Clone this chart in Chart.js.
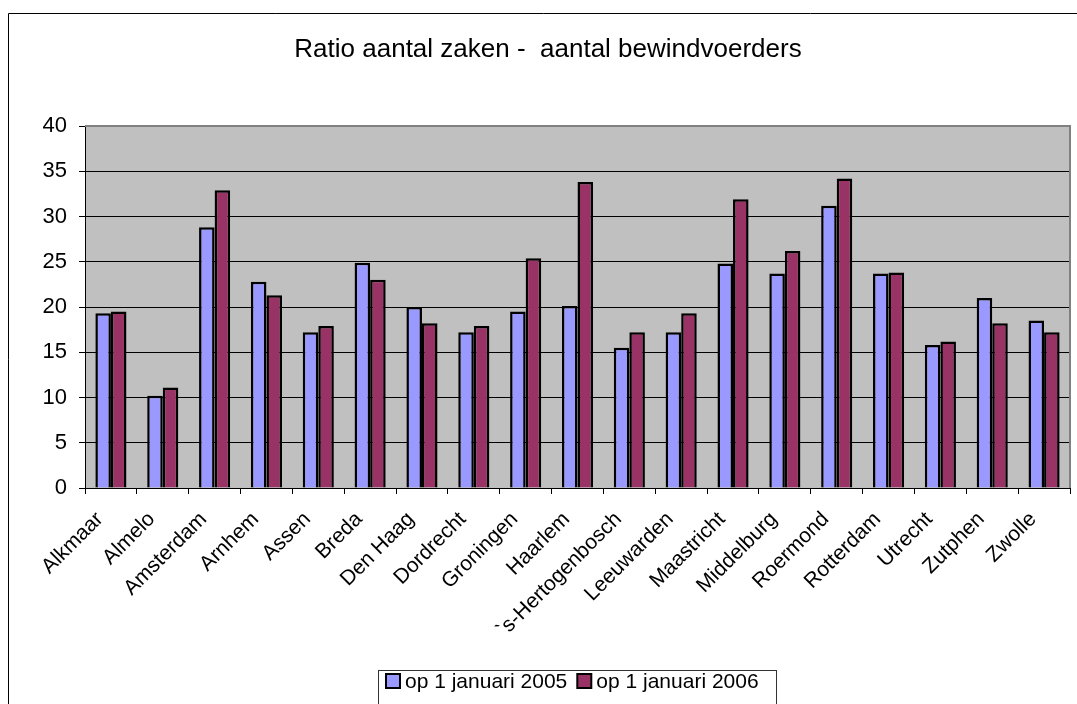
<!DOCTYPE html>
<html>
<head>
<meta charset="utf-8">
<script src="https://cdn.jsdelivr.net/npm/chart.js@4.4.1/dist/chart.umd.min.js"></script>
<style>
  html, body { margin: 0; padding: 0; background: #fff; }
  canvas { display: block; }
</style>
</head>
<body>
<canvas id="c" width="1077" height="704"></canvas>
<script>
// Courts (arrondissementen)
const categories = ['Alkmaar', 'Almelo', 'Amsterdam', 'Arnhem', 'Assen', 'Breda', 'Den Haag',
  'Dordrecht', 'Groningen', 'Haarlem', '`s-Hertogenbosch', 'Leeuwarden', 'Maastricht',
  'Middelburg', 'Roermond', 'Rotterdam', 'Utrecht', 'Zutphen', 'Zwolle'];

// Ratio cases per administrator
const ratio2005 = [19.3, 10.2, 28.8, 22.8, 17.2, 24.9, 20.0, 17.2, 19.5, 20.1,
  15.5, 17.2, 24.8, 23.7, 31.2, 23.7, 15.8, 21.0, 18.5];
const ratio2006 = [19.5, 11.1, 32.9, 21.3, 17.9, 23.0, 18.2, 17.9, 25.4, 33.8,
  17.2, 19.3, 31.9, 26.2, 34.2, 23.8, 16.2, 18.2, 17.2];

const seriesLabels = ['op 1 januari 2005', 'op 1 januari 2006'];
const titleText = 'Ratio aantal zaken -  aantal bewindvoerders';
const yTicks = [0, 5, 10, 15, 20, 25, 30, 35, 40];

const FONT = '"Liberation Sans", Arial, sans-serif';

// Plot-area background and border, drawn under grid lines
const plotBackground = {
  id: 'plotBackground',
  beforeDraw(chart) {
    const { ctx, chartArea: a } = chart;
    ctx.save();
    ctx.fillStyle = '#C0C0C0';
    ctx.fillRect(a.left, a.top, a.right - a.left, a.bottom - a.top);
    ctx.restore();
  },
  afterDatasetsDraw(chart) {
    const { ctx, chartArea: a } = chart;
    ctx.save();
    ctx.strokeStyle = '#808080';
    ctx.lineWidth = 2;
    ctx.beginPath();
    ctx.moveTo(a.left, a.top);
    ctx.lineTo(a.right, a.top);
    ctx.lineTo(a.right, a.bottom);
    ctx.stroke();
    ctx.restore();
  }
};

// Outer frame, title and boxed legend
const decorations = {
  id: 'decorations',
  afterDraw(chart) {
    const ctx = chart.ctx;
    ctx.save();
    // frame
    ctx.strokeStyle = '#000';
    ctx.lineWidth = 1;
    ctx.beginPath();
    ctx.moveTo(8.5, 710);
    ctx.lineTo(8.5, 13.5);
    ctx.lineTo(1080, 13.5);
    ctx.stroke();

    // title
    ctx.fillStyle = '#000';
    ctx.font = '26px ' + FONT;
    ctx.textAlign = 'center';
    ctx.textBaseline = 'middle';
    ctx.fillText(chart.options.plugins.decorations.title, 548, 50);

    // legend box
    ctx.strokeStyle = '#333';
    ctx.lineWidth = 1;
    ctx.strokeRect(378.5, 670.5, 398, 50);
    ctx.font = '21px ' + FONT;
    ctx.textAlign = 'left';
    ctx.textBaseline = 'middle';
    let x = 386;
    chart.data.datasets.forEach(ds => {
      ctx.fillStyle = ds.backgroundColor;
      ctx.fillRect(x, 674, 14, 14);
      ctx.strokeStyle = '#000';
      ctx.lineWidth = 2;
      ctx.strokeRect(x, 674, 14, 14);
      ctx.fillStyle = '#000';
      ctx.fillText(ds.label, x + 19, 682);
      x += 19 + ctx.measureText(ds.label).width + 10;
    });
    ctx.restore();
  }
};

new Chart(document.getElementById('c'), {
  type: 'bar',
  data: {
    labels: categories,
    datasets: [
      { label: seriesLabels[0], data: ratio2005, backgroundColor: '#9999FF',
        borderColor: '#000', borderWidth: 2.5, borderSkipped: 'bottom' },
      { label: seriesLabels[1], data: ratio2006, backgroundColor: '#993366',
        borderColor: '#000', borderWidth: 2.5, borderSkipped: 'bottom' }
    ]
  },
  options: {
    responsive: false,
    animation: false,
    devicePixelRatio: 1,
    layout: { padding: { top: 126, right: 7, left: 0, bottom: 0 } },
    datasets: { bar: { categoryPercentage: 0.6, barPercentage: 1.0 } },
    plugins: {
      legend: { display: false },
      title: { display: false },
      tooltip: { enabled: false },
      decorations: { title: titleText }
    },
    scales: {
      x: {
        grid: { offset: true, drawOnChartArea: false, drawTicks: true, tickLength: 6, tickColor: '#000' },
        border: { display: true, color: '#000', width: 1 },
        ticks: {
          autoSkip: false, minRotation: 45, maxRotation: 45,
          color: '#000', font: { family: FONT, size: 21 }, padding: 13, labelOffset: -11
        },
        afterFit(scale) { scale.height = 216; }
      },
      y: {
        min: 0, max: 40,
        afterBuildTicks(scale) { scale.ticks = yTicks.map(v => ({ value: v })); },
        grid: { color: '#000', lineWidth: 1, drawTicks: true, tickLength: 6, tickColor: '#000' },
        border: { display: true, color: '#000', width: 1 },
        ticks: { color: '#000', font: { family: FONT, size: 22 }, padding: 12 },
        afterFit(scale) { scale.width = 85; }
      }
    }
  },
  plugins: [plotBackground, decorations]
});
</script>
</body>
</html>
